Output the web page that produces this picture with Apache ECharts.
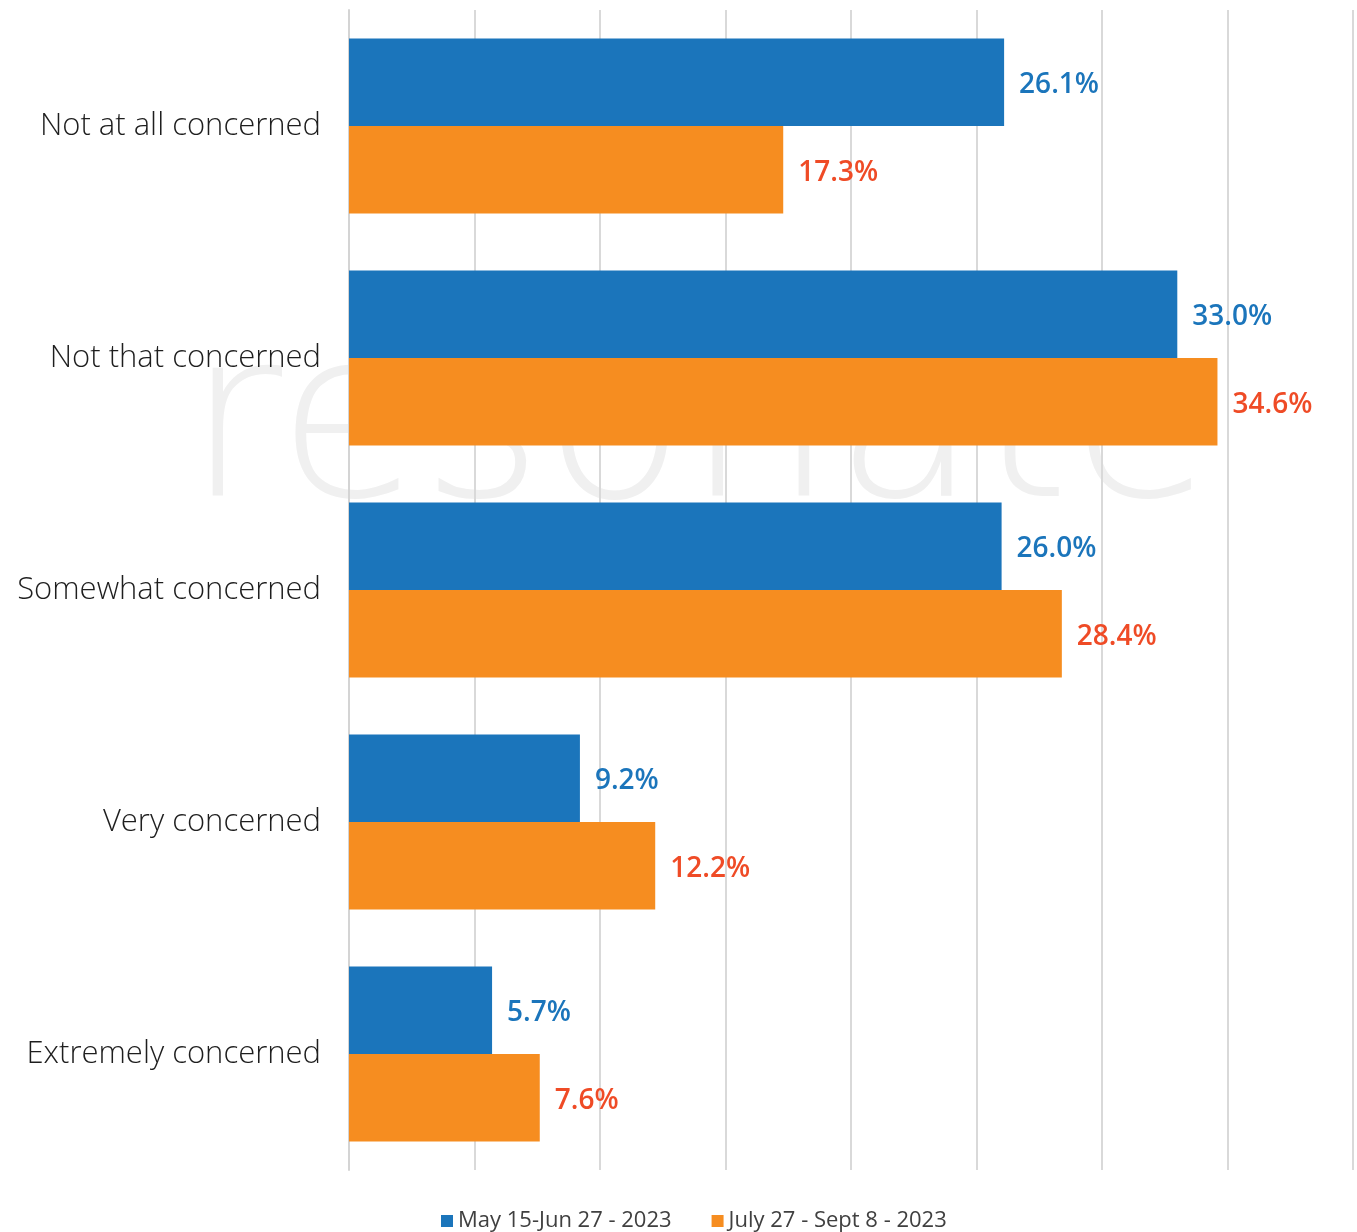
<!DOCTYPE html>
<html>
<head>
<meta charset="utf-8">
<script src="https://cdn.jsdelivr.net/npm/echarts@6/dist/echarts.min.js"></script>
<style>
  html, body { margin: 0; padding: 0; background: #fff; }
  #main { width: 1357px; height: 1232px; }
</style>
</head>
<body>
<div id="main"></div>
<script>
// data
var categories = ['Not at all concerned', 'Not that concerned', 'Somewhat concerned', 'Very concerned', 'Extremely concerned'];
var seriesNames = ['May 15-Jun 27 - 2023', 'July 27 - Sept 8 - 2023'];
var mayJun = [26.1, 33.0, 26.0, 9.2, 5.7];
var julSep = [17.3, 34.6, 28.4, 12.2, 7.6];

var chart = echarts.init(document.getElementById('main'));

var pctLabel = function (p) { return p.value.toFixed(1) + '%'; };

var option = {
  animation: false,
  backgroundColor: '#fff',
  // faint watermark behind the bars
  graphic: [{
    type: 'text',
    left: 186,
    top: 318,
    z: -10,
    silent: true,
    style: {
      text: 'resonate',
      font: '200 234px "DejaVu Sans"',
      fill: '#f0f0f0'
    }
  }],
  grid: { left: 349, right: 4, top: 10, bottom: 62 },
  legend: {
    top: 1205,
    left: 436,
    itemWidth: 12,
    itemHeight: 12,
    itemGap: 40,
    icon: 'rect',
    textStyle: { fontFamily: 'Open Sans', fontSize: 22, color: '#404040' },
    data: seriesNames
  },
  xAxis: {
    type: 'value',
    min: 0,
    max: 40,
    interval: 5,
    axisLabel: { show: false },
    axisLine: { show: false },
    axisTick: { show: false },
    splitLine: { lineStyle: { color: '#d9d9d9', width: 2 } }
  },
  yAxis: {
    type: 'category',
    inverse: true,
    data: categories,
    axisLine: { lineStyle: { color: '#d4d4d4', width: 2 } },
    axisTick: { length: 6, lineStyle: { color: '#d4d4d4', width: 2 } },
    axisLabel: {
      margin: 28,
      fontFamily: 'Open Sans',
      fontWeight: 300,
      fontSize: 31,
      color: '#1e1e1e'
    }
  },
  series: [
    {
      name: seriesNames[0],
      type: 'bar',
      data: mayJun,
      barGap: '0%',
      barCategoryGap: '24.6%',
      itemStyle: { color: '#1b75bb' },
      label: {
        show: true,
        position: 'right',
        distance: 15,
        offset: [0, 3],
        fontFamily: 'Open Sans',
        fontSize: 28,
        fontWeight: 600,
        color: '#1b75bb',
        formatter: pctLabel
      }
    },
    {
      name: seriesNames[1],
      type: 'bar',
      data: julSep,
      barGap: '0%',
      barCategoryGap: '24.6%',
      itemStyle: { color: '#f68d20' },
      label: {
        show: true,
        position: 'right',
        distance: 15,
        offset: [0, 3],
        fontFamily: 'Open Sans',
        fontSize: 28,
        fontWeight: 600,
        color: '#ef4b26',
        formatter: pctLabel
      }
    }
  ]
};

chart.setOption(option);
</script>
</body>
</html>
